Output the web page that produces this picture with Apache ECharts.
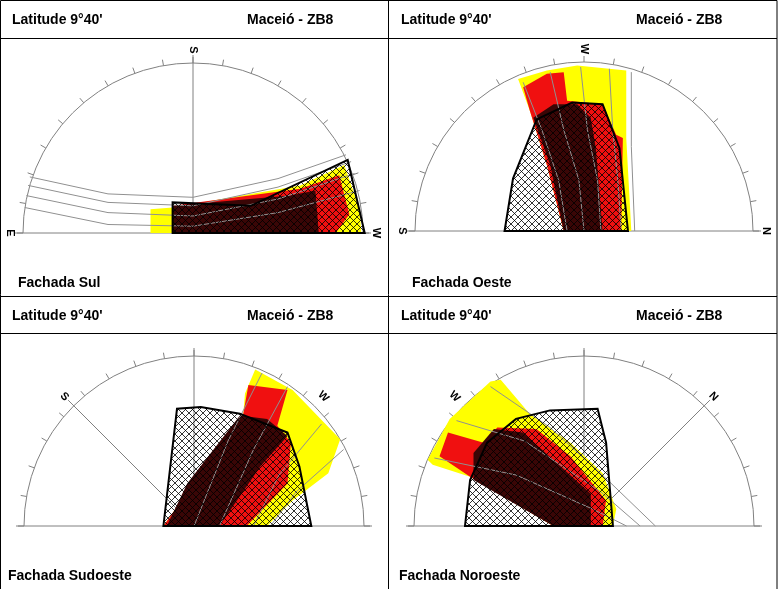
<!DOCTYPE html>
<html>
<head>
<meta charset="utf-8">
<script src="https://cdn.jsdelivr.net/npm/echarts@6/dist/echarts.min.js"></script>
<style>
  html, body { margin: 0; padding: 0; background: #fff; }
  #main { width: 783px; height: 589px; }
</style>
</head>
<body>
<div id="main"></div>
<script>
// shapes in diagram units: x right, y up, horizon radius = 1
var sulMask   = [[-0.12,0],[-0.12,0.18],[0.34,0.16],[0.91,0.43],[1.01,0]];
var sulYellow = [[-0.25,0.14],[-0.12,0.15],[0.63,0.28],[0.89,0.40],[0.98,0.14],[0.99,0],[-0.25,0]];
var sulRed    = [[-0.12,0.16],[0.63,0.26],[0.86,0.34],[0.92,0.11],[0.84,0],[-0.12,0]];
var sulDark   = [[-0.12,0.16],[0.57,0.22],[0.72,0.25],[0.74,0],[-0.12,0]];

var oesteMask   = [[-0.47,0],[-0.42,0.31],[-0.28,0.66],[-0.07,0.76],[0.11,0.75],[0.21,0.49],[0.26,0]];
var oesteYellow = [[-0.39,0.90],[-0.22,0.95],[-0.04,0.98],[0.25,0.95],[0.25,0.55],[0.28,0],[-0.12,0],[-0.22,0.39],[-0.32,0.71]];
var oesteRed    = [[-0.36,0.85],[-0.22,0.93],[-0.12,0.94],[-0.10,0.77],[0.11,0.75],[0.19,0.57],[0.23,0.55],[0.22,0],[-0.12,0],[-0.22,0.39],[-0.32,0.71]];
var oesteDark   = [[-0.30,0.67],[-0.18,0.75],[-0.04,0.75],[0.04,0.67],[0.07,0.49],[0.11,0],[-0.12,0],[-0.20,0.39]];

var sudoesteMask   = [[-0.18,0],[-0.10,0.69],[0.04,0.70],[0.27,0.66],[0.55,0.55],[0.62,0.35],[0.69,0]];
var sudoesteYellow = [[0.36,0.92],[0.58,0.80],[0.86,0.51],[0.79,0.31],[0.58,0.15],[0.43,0],[-0.18,0],[0.29,0.66],[0.30,0.78]];
var sudoesteRed    = [[0.32,0.83],[0.55,0.80],[0.49,0.59],[0.57,0.49],[0.55,0.25],[0.31,0],[-0.18,0],[0.29,0.66]];
var sudoesteDark   = [[0.27,0.65],[0.43,0.63],[0.55,0.53],[0.39,0.35],[0.15,0],[-0.16,0],[-0.04,0.25]];

var noroesteMask   = [[-0.70,0],[-0.67,0.27],[-0.57,0.49],[-0.40,0.63],[-0.20,0.68],[0.08,0.69],[0.13,0.49],[0.17,0]];
var noroesteYellow = [[-0.92,0.39],[-0.79,0.63],[-0.55,0.85],[-0.49,0.86],[-0.32,0.66],[-0.08,0.49],[0.11,0.31],[0.19,0.10],[0.17,0],[-0.18,0],[-0.67,0.29],[-0.89,0.36]];
var noroesteRed    = [[-0.85,0.41],[-0.80,0.55],[-0.59,0.49],[-0.51,0.58],[-0.28,0.57],[-0.08,0.41],[0.13,0.15],[0.11,0],[-0.18,0],[-0.67,0.29]];
var noroesteDark   = [[-0.65,0.43],[-0.53,0.57],[-0.36,0.55],[-0.16,0.37],[0.04,0.19],[0.04,0],[-0.18,0],[-0.65,0.27]];

// sun path curves
var sulPaths = [
  [[-0.99,0.15],[-0.5,0.05],[0,0.04],[0.5,0.12],[0.98,0.25]],
  [[-0.98,0.22],[-0.5,0.12],[0,0.10],[0.5,0.20],[0.95,0.35]],
  [[-0.97,0.28],[-0.5,0.18],[0,0.16],[0.5,0.27],[0.93,0.42]],
  [[-0.96,0.33],[-0.5,0.23],[0,0.21],[0.5,0.32],[0.90,0.46]]
];
var oestePaths = [
  [[-0.36,0.88],[-0.25,0.6],[-0.15,0.3],[-0.10,0]],
  [[-0.20,0.94],[-0.12,0.6],[-0.03,0.3],[0,0]],
  [[-0.02,0.97],[0.02,0.6],[0.08,0.3],[0.10,0]],
  [[0.15,0.96],[0.17,0.6],[0.20,0.3],[0.22,0]],
  [[0.28,0.94],[0.28,0.5],[0.30,0]]
];
var sudoestePaths = [
  [[0.40,0.90],[0.20,0.5],[0,0]],
  [[0.55,0.82],[0.35,0.45],[0.15,0]],
  [[0.75,0.60],[0.50,0.30],[0.35,0]],
  [[0.88,0.45],[0.60,0.20],[0.45,0]]
];
var noroestePaths = [
  [[-0.88,0.40],[-0.40,0.30],[0.05,0.10],[0.25,0]],
  [[-0.75,0.62],[-0.35,0.50],[0.10,0.20],[0.33,0]],
  [[-0.55,0.82],[-0.20,0.58],[0.15,0.26],[0.42,0]]
];

var tickAngles = [0,10,20,30,40,50,60,70,80,90,100,110,120,130,140,150,160,170,180];

var panels = [
  { cx: 193, cy: 233, R: 170, title: 'Fachada Sul',
    mask: sulMask, yellow: sulYellow, red: sulRed, dark: sulDark, paths: sulPaths,
    rays: [90], labels: [['S', 90, -90], ['E', 180, -90], ['W', 0, -90]] },
  { cx: 584, cy: 231, R: 169, title: 'Fachada Oeste',
    mask: oesteMask, yellow: oesteYellow, red: oesteRed, dark: oesteDark, paths: oestePaths,
    rays: [], labels: [['W', 90, -90], ['S', 180, -90], ['N', 0, -90]] },
  { cx: 194, cy: 526, R: 170, title: 'Fachada Sudoeste',
    mask: sudoesteMask, yellow: sudoesteYellow, red: sudoesteRed, dark: sudoesteDark, paths: sudoestePaths,
    rays: [90, 135], labels: [['S', 135, -45], ['W', 45, -45]] },
  { cx: 584, cy: 526, R: 170, title: 'Fachada Noroeste',
    mask: noroesteMask, yellow: noroesteYellow, red: noroesteRed, dark: noroesteDark, paths: noroestePaths,
    rays: [90, 45], labels: [['W', 135, -45], ['N', 45, -45]] }
];

// cross hatch pattern
var hc = document.createElement('canvas');
hc.width = 7; hc.height = 7;
var hx = hc.getContext('2d');
hx.strokeStyle = '#000'; hx.lineWidth = 0.8;
hx.beginPath(); hx.moveTo(0,0); hx.lineTo(7,7); hx.moveTo(7,0); hx.lineTo(0,7); hx.stroke();
var hatch = { image: hc, repeat: 'repeat' };

var grids = [], xAxes = [], yAxes = [], series = [];

function polySeries(i, pts, style) {
  return {
    type: 'custom', xAxisIndex: i, yAxisIndex: i, data: [0], clip: false, silent: true,
    renderItem: function (params, api) {
      return { type: 'polygon', shape: { points: pts.map(function (p) { return api.coord(p); }) }, style: style };
    }
  };
}

panels.forEach(function (p, i) {
  grids.push({ left: p.cx - 1.1 * p.R, top: p.cy - 1.1 * p.R, width: 2.2 * p.R, height: 1.1 * p.R });
  xAxes.push({ type: 'value', gridIndex: i, min: -1.1, max: 1.1, show: false });
  yAxes.push({ type: 'value', gridIndex: i, min: 0, max: 1.1, show: false });

  // frame: arc, ticks, baseline, rays, labels
  series.push({
    type: 'custom', xAxisIndex: i, yAxisIndex: i, data: [0], clip: false, silent: true, z: 1,
    renderItem: function (params, api) {
      var c = api.coord([0, 0]);
      var r = api.coord([1, 0])[0] - c[0];
      var kids = [{ type: 'arc', shape: { cx: c[0], cy: c[1], r: r, startAngle: Math.PI, endAngle: 2 * Math.PI },
                    style: { stroke: '#808080', fill: null, lineWidth: 1 } }];
      tickAngles.forEach(function (a) {
        var t = a * Math.PI / 180;
        kids.push({ type: 'line', shape: { x1: c[0] + r * Math.cos(t), y1: c[1] - r * Math.sin(t),
                    x2: c[0] + (r + 6) * Math.cos(t), y2: c[1] - (r + 6) * Math.sin(t) },
                    style: { stroke: '#808080', lineWidth: 1 } });
      });
      kids.push({ type: 'line', shape: { x1: c[0] - r - 8, y1: c[1], x2: c[0] + r + 8, y2: c[1] },
                  style: { stroke: '#808080', lineWidth: 1 } });
      p.rays.forEach(function (a) {
        var t = a * Math.PI / 180;
        kids.push({ type: 'line', shape: { x1: c[0], y1: c[1], x2: c[0] + (r + 8) * Math.cos(t), y2: c[1] - (r + 8) * Math.sin(t) },
                    style: { stroke: '#808080', lineWidth: 1 } });
      });
      p.labels.forEach(function (l) {
        var t = l[1] * Math.PI / 180;
        kids.push({ type: 'text', x: c[0] + (r + 13) * Math.cos(t), y: c[1] - (r + 13) * Math.sin(t),
                    rotation: l[2] * Math.PI / 180,
                    style: { text: l[0], fill: '#000', font: 'bold 11px Arial, Liberation Sans', align: 'center', verticalAlign: 'middle' } });
      });
      return { type: 'group', children: kids };
    }
  });

  series.push(polySeries(i, p.yellow, { fill: '#ffff00', stroke: null }));
  series.push(polySeries(i, p.red, { fill: '#f01010', stroke: null }));
  series.push(polySeries(i, p.dark, { fill: '#3a0606', stroke: null }));

  p.paths.forEach(function (path) {
    series.push({
      type: 'custom', xAxisIndex: i, yAxisIndex: i, data: [0], clip: false, silent: true,
      renderItem: function (params, api) {
        return { type: 'polyline', shape: { points: path.map(function (q) { return api.coord(q); }) },
                 style: { stroke: '#909090', lineWidth: 1, fill: null } };
      }
    });
  });

  series.push(polySeries(i, p.mask, { fill: hatch, stroke: '#000', lineWidth: 2 }));
});

var txt = function (x, y, s) {
  return { type: 'text', x: x, y: y, style: { text: s, fill: '#000', font: 'bold 14px Arial, Liberation Sans', verticalAlign: 'middle' } };
};
var ln = function (x1, y1, x2, y2) {
  return { type: 'line', shape: { x1: x1, y1: y1, x2: x2, y2: y2 }, style: { stroke: '#000', lineWidth: 1 } };
};

var graphics = [
  ln(0.5, 0.5, 777, 0.5), ln(0.5, 0.5, 0.5, 589), ln(777, 0.5, 777, 589),
  ln(388.5, 0, 388.5, 589), ln(0, 38.5, 777, 38.5), ln(0, 296.5, 777, 296.5), ln(0, 333.5, 777, 333.5),
  txt(12, 20, "Latitude 9°40'"), txt(247, 20, 'Maceió - ZB8'),
  txt(401, 20, "Latitude 9°40'"), txt(636, 20, 'Maceió - ZB8'),
  txt(12, 316, "Latitude 9°40'"), txt(247, 316, 'Maceió - ZB8'),
  txt(401, 316, "Latitude 9°40'"), txt(636, 316, 'Maceió - ZB8'),
  txt(18, 283, panels[0].title), txt(412, 283, panels[1].title),
  txt(8, 576, panels[2].title), txt(399, 576, panels[3].title)
];

var chart = echarts.init(document.getElementById('main'));
chart.setOption({
  animation: false,
  grid: grids, xAxis: xAxes, yAxis: yAxes, series: series,
  graphic: { elements: graphics }
});
</script>
</body>
</html>
